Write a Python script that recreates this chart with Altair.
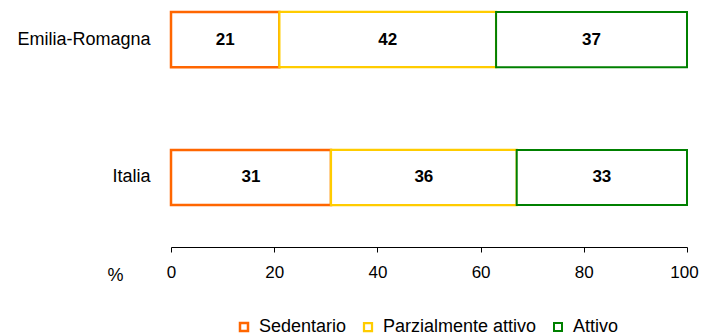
import altair as alt
import pandas as pd

areas = ["Emilia-Romagna", "Italia"]
categories = ["Sedentario", "Parzialmente attivo", "Attivo"]
values_er = [21, 42, 37]
values_it = [31, 36, 33]
colors = ["#FF6600", "#FFCC00", "#008000"]
widths = [2.5, 2, 3]
ticks = [0, 20, 40, 60, 80, 100]

rows = []
for area, vals in zip(areas, [values_er, values_it]):
    for i, (c, v) in enumerate(zip(categories, vals)):
        rows.append({"area": area, "cat": c, "value": v, "order": i})
df = pd.DataFrame(rows)

FONT = "Liberation Sans"

base = alt.Chart(df).transform_stack(
    stack="value", as_=["x0", "x1"], groupby=["area"], sort=[{"field": "order", "order": "ascending"}]
).transform_calculate(mid="(datum.x0 + datum.x1) / 2")

y = alt.Y("area:N", sort=areas, title=None,
          scale=alt.Scale(paddingInner=0.6, paddingOuter=0.1667, align=0.087),
          axis=alt.Axis(domain=False, ticks=False, grid=False, labelPadding=21, labelFontSize=18,
                        labelFont=FONT, labelColor="black"))

bars = base.mark_bar(fill="white", cornerRadius=0).encode(
    x=alt.X("x0:Q", scale=alt.Scale(domain=[0, 100], nice=False),
            axis=alt.Axis(values=ticks, grid=False, domainColor="black", tickColor="black",
                          tickSize=5, labelPadding=12, labelFontSize=17, labelFont=FONT,
                          labelFlush=False,
                          labelOffset={"condition": {"test": "datum.value === 100", "value": -3}, "value": 0},
                          labelColor="black", title="%", titleX=-56, titleY=28,
                          titleBaseline="middle", titleFontWeight="normal", titleFontSize=18,
                          titleFont=FONT, titleColor="black")),
    x2="x1:Q",
    y=y,
    stroke=alt.Stroke("cat:N", sort=categories,
                      scale=alt.Scale(domain=categories, range=colors),
                      legend=alt.Legend(title=None, orient="none", direction="horizontal",
                                        legendX=64, legendY=310, symbolType="square",
                                        symbolSize=64, symbolStrokeWidth=2.5,
                                        symbolFillColor="white", labelFontSize=18,
                                        labelFont=FONT, labelColor="black",
                                        labelOffset=6, columnPadding=12)),
    strokeWidth=alt.StrokeWidth("cat:N", scale=alt.Scale(domain=categories, range=widths),
                                legend=None),
    order=alt.Order("order:Q"),
)

text = base.mark_text(fontWeight="bold", fontSize=17, font=FONT, color="black").encode(
    x="mid:Q",
    y=alt.Y("area:N", sort=areas),
    text="value:Q",
)

chart = alt.layer(bars, text).properties(
    width=516, height=239,
    background="white",
    autosize=alt.AutoSizeParams(type="none"),
    padding={"left": 163, "top": 0, "right": 12, "bottom": 89},
).configure_view(stroke=None).configure_axis(grid=False)

chart.save("out.html", embed_options={"renderer": "svg", "actions": False})
